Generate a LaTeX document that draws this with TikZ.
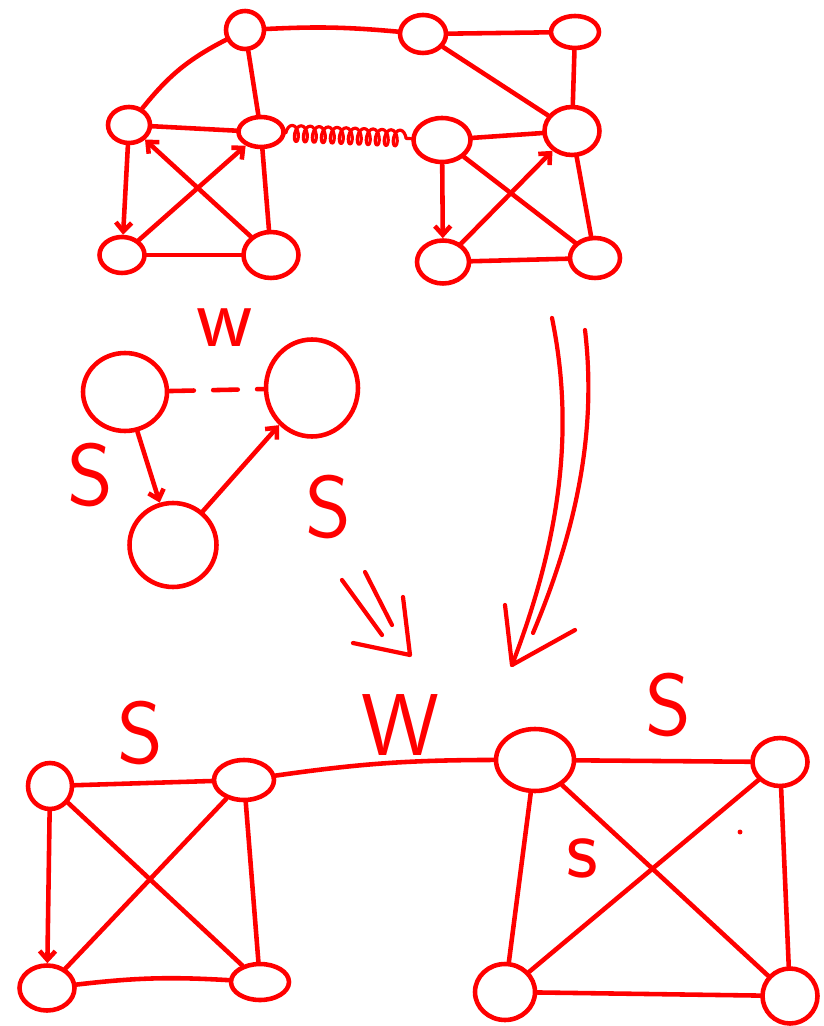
\documentclass[tikz,border=0pt]{standalone}
\usetikzlibrary{arrows.meta,shapes.geometric,decorations.pathmorphing}

\begin{document}
\begin{tikzpicture}[
  x=0.02cm, y=-0.02cm,
  line cap=round, line join=round,
  ink/.style={draw=red, line width=2.6pt},
  vtx/.style={ellipse, ink, inner sep=0pt},
  edge/.style={ink},
  tipped/.style={ink, -{Straight Barb[length=5pt,width=9pt]}},
  coiled/.style={ink, line width=1.8pt, decorate,
    decoration={coil, amplitude=1.6mm, segment length=1.8mm}},
  broken/.style={ink, dash pattern=on 14pt off 11pt},
  shaft/.style={ink, line width=2.4pt},
  lbl/.style={text=red, inner sep=0pt, font=\sffamily\fontsize{50}{50}\selectfont}
]
\useasboundingbox (0,0) rectangle (823,1026);

% upper graph
\node[vtx, minimum width=0.76cm, minimum height=0.76cm] (t1) at (245,30) {};
\node[vtx, minimum width=0.92cm, minimum height=0.76cm] (t2) at (423,34) {};
\node[vtx, minimum width=0.96cm, minimum height=0.64cm] (t3) at (575,32) {};
\node[vtx, minimum width=0.84cm, minimum height=0.72cm] (m1) at (129,125) {};
\node[vtx, minimum width=0.90cm, minimum height=0.60cm] (m2) at (261,132) {};
\node[vtx, minimum width=1.14cm, minimum height=0.88cm] (m3) at (442,140) {};
\node[vtx, minimum width=1.10cm, minimum height=0.96cm] (m4) at (572,131) {};
\node[vtx, minimum width=0.90cm, minimum height=0.72cm] (b1) at (122,255) {};
\node[vtx, minimum width=1.10cm, minimum height=0.92cm] (b2) at (271,255) {};
\node[vtx, minimum width=1.04cm, minimum height=0.86cm] (b3) at (443,262) {};
\node[vtx, minimum width=1.00cm, minimum height=0.80cm] (b4) at (595,258) {};

\draw[edge] (t1) to[bend left=4] (t2);
\draw[edge] (t2) -- (t3);
\draw[edge] (t2) -- (m4);
\draw[edge] (t3) -- (m4);
\draw[edge] (t1) to[bend right=12] (m1);
\draw[edge] (t1) -- (m2);
\draw[edge] (m1) -- (m2);
\draw[coiled] (m2) -- (m3);
\draw[edge] (m3) -- (m4);
\draw[tipped] (m1) -- (b1);
\draw[tipped] (b1) -- (m2);
\draw[tipped] (b2) -- (m1);
\draw[edge] (m2) -- (b2);
\draw[edge] (b1) -- (b2);
\draw[tipped] (m3) -- (b3);
\draw[tipped] (b3) -- (m4);
\draw[edge] (m3) -- (b4);
\draw[edge] (m4) -- (b4);
\draw[edge] (b3) -- (b4);

% triangle
\node[vtx, minimum width=1.68cm, minimum height=1.56cm] (a) at (125,392) {};
\node[vtx, minimum width=1.84cm, minimum height=1.94cm] (bn) at (312,388) {};
\node[vtx, minimum width=1.74cm, minimum height=1.68cm] (c) at (173,545) {};
\draw[broken] (a) -- (bn);
\draw[tipped] (a) -- (c);
\draw[tipped] (c) -- (bn);
\node[lbl] (wTop) at (225,328) {w};
\node[lbl] (sLeft) at (90,475) {S};
\node[lbl] (sRight) at (328,507) {S};

% arrows down
\coordinate (smallA) at (342,580);
\coordinate (smallB) at (365,572);
\coordinate (smallTip) at (410,655);
\draw[shaft] (smallA) -- (382,635);
\draw[shaft] (smallB) -- (392,625);
\draw[shaft] (353,643) -- (smallTip) -- (403,597);

\coordinate (bigA) at (552,318);
\coordinate (bigB) at (585,330);
\coordinate (bigTip) at (512,665);
\draw[shaft] (bigA) .. controls (575,430) and (560,540) .. (bigTip);
\draw[shaft] (bigB) .. controls (598,440) and (572,540) .. (533,633);
\draw[shaft] (505,605) -- (bigTip) -- (575,630);

% lower graph
\node[vtx, minimum width=0.88cm, minimum height=0.92cm] (p1) at (50,786) {};
\node[vtx, minimum width=1.20cm, minimum height=0.80cm] (p2) at (244,780) {};
\node[vtx, minimum width=1.10cm, minimum height=0.90cm] (p3) at (47,988) {};
\node[vtx, minimum width=1.16cm, minimum height=0.72cm] (p4) at (260,982) {};
\node[vtx, minimum width=1.56cm, minimum height=1.24cm] (q1) at (535,760) {};
\node[vtx, minimum width=1.10cm, minimum height=0.96cm] (q2) at (780,762) {};
\node[vtx, minimum width=1.20cm, minimum height=1.12cm] (q3) at (505,992) {};
\node[vtx, minimum width=1.10cm, minimum height=1.10cm] (q4) at (790,996) {};

\draw[edge] (p1) -- (p2);
\draw[tipped] (p1) -- (p3);
\draw[edge] (p1) -- (p4);
\draw[edge] (p2) -- (p3);
\draw[edge] (p2) -- (p4);
\draw[edge] (p3) to[bend left=5] (p4);
\draw[edge] (p2) to[bend left=4] (q1);
\draw[edge] (q1) -- (q2);
\draw[edge] (q1) -- (q3);
\draw[edge] (q1) -- (q4);
\draw[edge] (q2) -- (q3);
\draw[edge] (q2) -- (q4);
\draw[edge] (q3) -- (q4);

\node[lbl] (sBotL) at (140,733) {S};
\node[lbl] (wBot) at (400,725) {W};
\node[lbl] (sBotR) at (668,705) {S};
\node[lbl] (sInner) at (582,858) {s};
\fill[red] (740,832) circle (1.4pt);

\end{tikzpicture}
\end{document}
